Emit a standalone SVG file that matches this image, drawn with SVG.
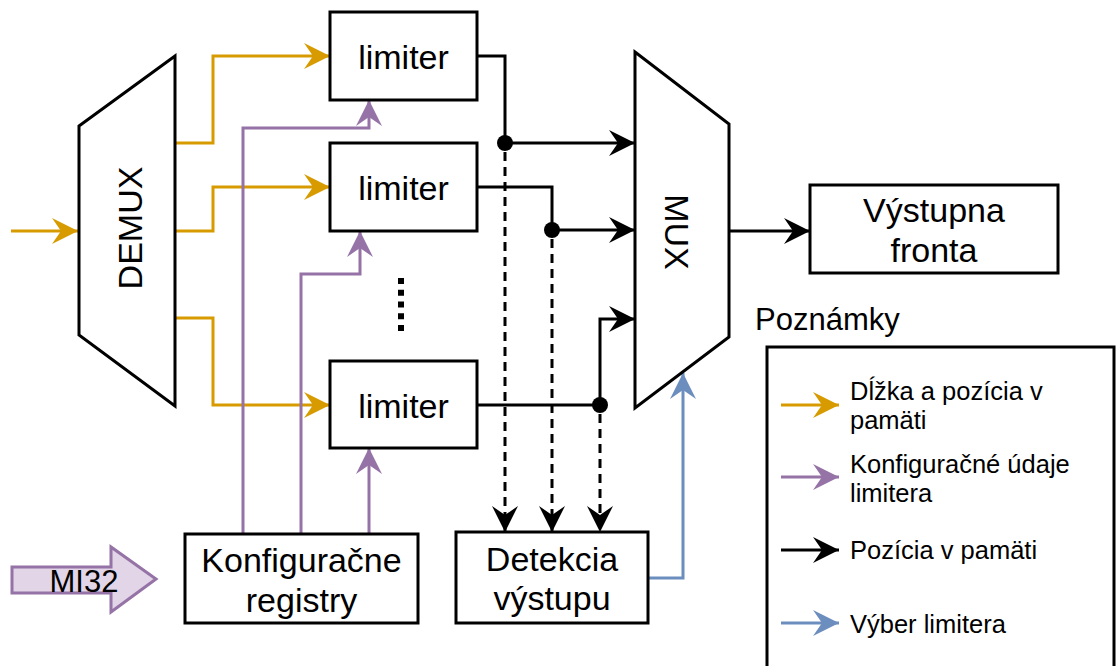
<svg xmlns="http://www.w3.org/2000/svg" width="1116" height="666" viewBox="0 0 1116 666">
<style>
text{font-family:"Liberation Sans",Arial,sans-serif;fill:#000}
.box{fill:#fff;stroke:#000;stroke-width:3}
.t34{font-size:34px;text-anchor:middle}
.lg{font-size:25.5px}
.ln{fill:none;stroke-width:3}
.or{stroke:#d79b00}
.pu{stroke:#9673a6}
.bk{stroke:#000}
.bl{stroke:#6c8ebf}
.dash{stroke-dasharray:9 6}
</style>
<defs>
<marker id="aO" markerUnits="userSpaceOnUse" viewBox="-27 -14 28 28" refX="0" refY="0" markerWidth="28" markerHeight="28" orient="auto"><path d="M0,0 L-26,-13 L-17,0 L-26,13 Z" fill="#d79b00"/></marker>
<marker id="aP" markerUnits="userSpaceOnUse" viewBox="-27 -14 28 28" refX="0" refY="0" markerWidth="28" markerHeight="28" orient="auto"><path d="M0,0 L-26,-13 L-17,0 L-26,13 Z" fill="#9673a6"/></marker>
<marker id="aK" markerUnits="userSpaceOnUse" viewBox="-27 -14 28 28" refX="0" refY="0" markerWidth="28" markerHeight="28" orient="auto"><path d="M0,0 L-26,-13 L-17,0 L-26,13 Z" fill="#000"/></marker>
<marker id="aB" markerUnits="userSpaceOnUse" viewBox="-27 -14 28 28" refX="0" refY="0" markerWidth="28" markerHeight="28" orient="auto"><path d="M0,0 L-26,-13 L-17,0 L-26,13 Z" fill="#6c8ebf"/></marker>
</defs>

<g id="connectors">
<path class="ln or" d="M11,231 H78" marker-end="url(#aO)"/>
<path class="ln or" d="M175,143 H213 V56 H330" marker-end="url(#aO)"/>
<path class="ln or" d="M175,231 H213 V187 H330" marker-end="url(#aO)"/>
<path class="ln or" d="M175,318 H213 V405 H330" marker-end="url(#aO)"/>
<path class="ln pu" d="M243,534 V128 H369 V100" marker-end="url(#aP)"/>
<path class="ln pu" d="M301,534 V274 H360 V231" marker-end="url(#aP)"/>
<path class="ln pu" d="M369,534 V448" marker-end="url(#aP)"/>
<path class="ln bk" d="M477,56 H505 V143"/>
<path class="ln bk" d="M505,143 H635" marker-end="url(#aK)"/>
<path class="ln bk" d="M477,187 H552 V230"/>
<path class="ln bk" d="M552,230 H635" marker-end="url(#aK)"/>
<path class="ln bk" d="M477,405 H600"/>
<path class="ln bk" d="M600,405 V319 H635" marker-end="url(#aK)"/>
<path class="ln bk dash" d="M505,152 V532" marker-end="url(#aK)"/>
<path class="ln bk dash" d="M552,239 V532" marker-end="url(#aK)"/>
<path class="ln bk dash" d="M600,414 V532" marker-end="url(#aK)"/>
<path class="ln bk" d="M729,231 H810" marker-end="url(#aK)"/>
<path class="ln bl" d="M648,578 H683 V373" marker-end="url(#aB)"/>
<circle cx="505" cy="143" r="8" fill="#000"/>
<circle cx="552" cy="230" r="8" fill="#000"/>
<circle cx="600" cy="405" r="8" fill="#000"/>
</g>

<g id="demux">
<polygon class="box" points="79,126 175,56 175,406 79,335"/>
<text class="t34" x="142" y="228" transform="rotate(-90 142 228)">DEMUX</text>
</g>

<g id="limiter1">
<rect class="box" x="330" y="12" width="147" height="88"/>
<text class="t34" x="403.5" y="69">limiter</text>
</g>
<g id="limiter2">
<rect class="box" x="330" y="143" width="147" height="88"/>
<text class="t34" x="403.5" y="200">limiter</text>
</g>
<g id="limiter3">
<rect class="box" x="330" y="361" width="147" height="87"/>
<text class="t34" x="403.5" y="418">limiter</text>
</g>

<g id="dots">
<line x1="401" y1="278" x2="401" y2="331" stroke="#000" stroke-width="6" stroke-dasharray="6 5.75"/>
</g>

<g id="mux">
<polygon class="box" points="635,52 729,124 729,337 635,408"/>
<text class="t34" x="665" y="232" transform="rotate(90 665 232)">MUX</text>
</g>

<g id="vystupna">
<rect class="box" x="810" y="185" width="248" height="88"/>
<text class="t34" x="934" y="222">Výstupna</text>
<text class="t34" x="934" y="262">fronta</text>
</g>

<g id="konfig">
<rect class="box" x="185" y="534" width="233" height="89"/>
<text class="t34" x="301.5" y="572">Konfiguračne</text>
<text class="t34" x="301.5" y="612">registry</text>
</g>

<g id="detekcia">
<rect class="box" x="456" y="532" width="192" height="91"/>
<text class="t34" x="552" y="571">Detekcia</text>
<text class="t34" x="552" y="610">výstupu</text>
</g>

<g id="mi32">
<polygon points="12,567 111,567 111,547 156,579 111,612 111,593 12,593" fill="#e1d5e7" stroke="#9673a6" stroke-width="3"/>
<text x="84" y="592" style="font-size:31px;text-anchor:middle">MI32</text>
</g>

<g id="legend">
<text x="755" y="330" style="font-size:31px">Poznámky</text>
<rect x="767" y="347" width="347" height="322" fill="none" stroke="#000" stroke-width="3"/>
<path class="ln or" d="M781,405 H839" marker-end="url(#aO)"/>
<text class="lg" x="850" y="400">Dĺžka a pozícia v</text>
<text class="lg" x="850" y="429">pamäti</text>
<path class="ln pu" d="M781,477 H839" marker-end="url(#aP)"/>
<text class="lg" x="850" y="473">Konfiguračné údaje</text>
<text class="lg" x="850" y="502">limitera</text>
<path class="ln bk" d="M781,550 H839" marker-end="url(#aK)"/>
<text class="lg" x="850" y="559">Pozícia v pamäti</text>
<path class="ln bl" d="M781,623 H839" marker-end="url(#aB)"/>
<text class="lg" x="850" y="633">Výber limitera</text>
</g>
</svg>
